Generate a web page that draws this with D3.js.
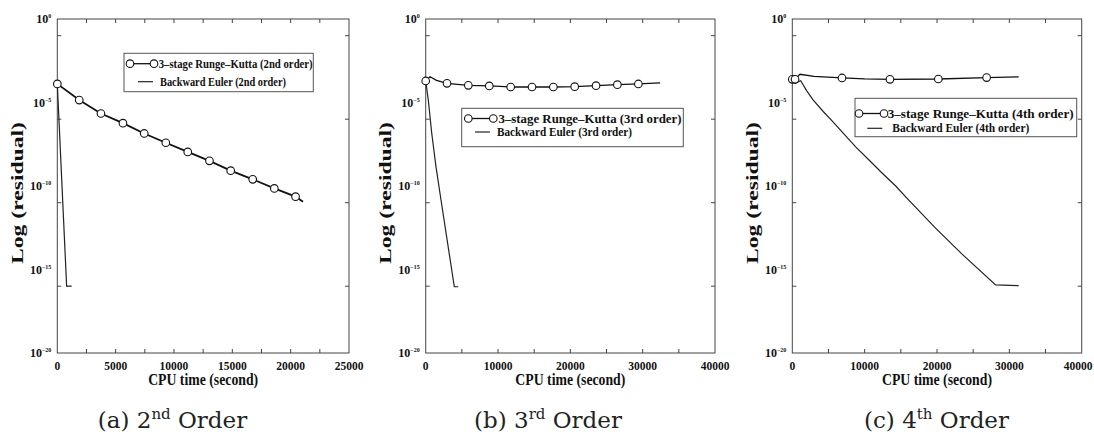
<!DOCTYPE html>
<meta charset="utf-8">
<script src="https://d3js.org/d3.v7.min.js"></script>
<style>
  body { margin: 0; background: #fff; }
  text { font-family: "Liberation Serif", "Times New Roman", serif; font-weight: bold; fill: #111; }
  .caption { font-family: "DejaVu Serif", serif; font-weight: normal; fill: #222; }
</style>
<svg id="chart" width="1094" height="437"></svg>
<script>

// (a) 2nd order : 3-stage RK line, its markers, backward Euler
var rkTimeA = [0, 1880, 3740, 5625, 7450, 9300, 11180, 13040, 14860, 16750, 18600, 20420, 21060];
var rkResA  = [1.3e-4, 1.4e-5, 2.2e-6, 5.8e-7, 1.4e-7, 3.9e-8, 1.1e-8, 3.2e-9, 8.3e-10, 2.5e-10, 7.2e-11, 2.3e-11, 1.15e-11];
var rkMarkTimeA = [0, 1880, 3740, 5625, 7450, 9300, 11180, 13040, 14860, 16750, 18600, 20420];
var rkMarkResA  = [1.3e-4, 1.4e-5, 2.2e-6, 5.8e-7, 1.4e-7, 3.9e-8, 1.1e-8, 3.2e-9, 8.3e-10, 2.5e-10, 7.2e-11, 2.3e-11];
var beTimeA = [0, 800, 1230];
var beResA  = [1.3e-4, 1e-16, 1e-16];

// (b) 3rd order
var rkTimeB = [0, 600, 1500, 2945, 5890, 8790, 11750, 14700, 17650, 20600, 23550, 26500, 29400, 32420];
var rkResB  = [1.95e-4, 3.5e-4, 2.1e-4, 1.4e-4, 1.07e-4, 9.8e-5, 8.5e-5, 8.5e-5, 8.5e-5, 8.9e-5, 1.02e-4, 1.17e-4, 1.29e-4, 1.48e-4];
var rkMarkTimeB = [0, 2945, 5890, 8790, 11750, 14700, 17650, 20600, 23550, 26500, 29400];
var rkMarkResB  = [1.95e-4, 1.4e-4, 1.07e-4, 9.8e-5, 8.5e-5, 8.5e-5, 8.5e-5, 8.9e-5, 1.02e-4, 1.17e-4, 1.29e-4];
var beTimeB = [0, 360, 830, 1425, 2116, 3955, 4500];
var beResB  = [1.95e-4, 1.4e-5, 1.5e-7, 1.4e-9, 1.45e-11, 9.3e-17, 9.3e-17];

// (c) 4th order
var rkTimeC = [0, 380, 1060, 3000, 6870, 10000, 13500, 20180, 26860, 31290];
var rkResC  = [2.45e-4, 2.45e-4, 4.9e-4, 3.7e-4, 2.95e-4, 2.6e-4, 2.45e-4, 2.55e-4, 3.1e-4, 3.4e-4];
var rkMarkTimeC = [0, 380, 6870, 13500, 20180, 26860];
var rkMarkResC  = [2.45e-4, 2.45e-4, 2.95e-4, 2.45e-4, 2.55e-4, 3.1e-4];
var beTimeC = [0, 370, 1160, 2000, 2900, 4300, 5500, 6910, 8760, 10600, 12440, 14290, 16000, 19800, 23500, 28100, 31290];
var beResC  = [2.45e-4, 1.4e-4, 2e-4, 5e-5, 1.4e-5, 2.8e-6, 8e-7, 1.7e-7, 2.2e-8, 3.6e-9, 5.8e-10, 1e-10, 1.6e-11, 3e-13, 8e-15, 1.2e-16, 1.07e-16];

var orders = ["2nd", "3rd", "4th"];
var captionLetters = ["(a)", "(b)", "(c)"];
var captionSups = ["nd", "rd", "th"];
var xMaxes = [25000, 40000, 40000];
var xTickSteps = [2500, 5000, 5000];
var xLabelSteps = [5000, 10000, 10000];

var yLabelVals = [1, 1e-5, 1e-10, 1e-15, 1e-20];
var yLabelExp  = ["0", "\u22125", "\u221210", "\u221215", "\u221220"];
var yTickVals  = [1e-1, 1e-6, 1e-11, 1e-16];

function zip(a, b) { return a.map(function(v, i) { return [v, b[i]]; }); }

// layout per panel
var layout = [
  {left: 57.3, right: 349, yLab: 17, cap: 172.5,
   lg: {x: 124, y: 53.3, w: 189.3, r1: 63.7, r2: 81.7, c1: 130, c2: 154, l1: 138, l2: 153, t1: 156.7, t2: 160, w1: 156, w2: 126}},
  {left: 425.7, right: 715, yLab: 385, cap: 548,
   lg: {x: 461.7, y: 108.3, w: 221.6, r1: 118.5, r2: 132, c1: 468.3, c2: 493.3, l1: 475, l2: 490, t1: 496.5, t2: 497, w1: 185, w2: 135}},
  {left: 792.3, right: 1081.7, yLab: 752, cap: 936.5,
   lg: {x: 855, y: 98.3, w: 221.7, r1: 113.5, r2: 128.3, c1: 859, c2: 884, l1: 867.3, l2: 882.3, t1: 885.7, t2: 892.3, w1: 188, w2: 137}}
];

var series = [
  {rk: zip(rkTimeA, rkResA), mk: zip(rkMarkTimeA, rkMarkResA), be: zip(beTimeA, beResA)},
  {rk: zip(rkTimeB, rkResB), mk: zip(rkMarkTimeB, rkMarkResB), be: zip(beTimeB, beResB)},
  {rk: zip(rkTimeC, rkResC), mk: zip(rkMarkTimeC, rkMarkResC), be: zip(beTimeC, beResC)}
];

var plotTop = 19, plotBottom = 353;
var svg = d3.select("#chart");

var y = d3.scaleLog().domain([1e-20, 1]).range([plotBottom, plotTop]);

layout.forEach(function(L, i) {
  var g = svg.append("g");
  var x = d3.scaleLinear().domain([0, xMaxes[i]]).range([L.left, L.right]);

  // frame
  g.append("rect")
    .attr("x", L.left).attr("y", plotTop)
    .attr("width", L.right - L.left).attr("height", plotBottom - plotTop)
    .attr("fill", "none").attr("stroke", "#444").attr("stroke-width", 1);

  // inward ticks, bottom and top
  var xt = d3.range(xTickSteps[i], xMaxes[i], xTickSteps[i]);
  g.selectAll(".xtb").data(xt).enter().append("line")
    .attr("x1", x).attr("x2", x).attr("y1", plotBottom).attr("y2", plotBottom - 4)
    .attr("stroke", "#444");
  g.selectAll(".xtt").data(xt).enter().append("line")
    .attr("x1", x).attr("x2", x).attr("y1", plotTop).attr("y2", plotTop + 4)
    .attr("stroke", "#444");
  // inward ticks, left and right
  g.selectAll(".ytl").data(yTickVals).enter().append("line")
    .attr("x1", L.left).attr("x2", L.left + 4).attr("y1", y).attr("y2", y)
    .attr("stroke", "#444");
  g.selectAll(".ytr").data(yTickVals).enter().append("line")
    .attr("x1", L.right).attr("x2", L.right - 4).attr("y1", y).attr("y2", y)
    .attr("stroke", "#444");

  // x tick labels (kept inside the page at the right edge)
  g.selectAll(".xl").data(d3.range(0, xMaxes[i] + 1, xLabelSteps[i])).enter().append("text")
    .attr("x", function(d) { return Math.min(x(d), 1078); }).attr("y", 369.5)
    .attr("text-anchor", "middle")
    .style("font-size", "11.5px")
    .text(function(d) { return d; });

  // y tick labels 10^n
  yLabelVals.forEach(function(v, k) {
    var t = g.append("text")
      .attr("x", L.left - 6).attr("y", y(v) + 4)
      .attr("text-anchor", "end")
      .style("font-size", "12px")
      .text("10");
    t.append("tspan").attr("dy", -5).style("font-size", "6px").text(yLabelExp[k]);
  });

  // axis titles
  g.append("text")
    .attr("transform", "translate(" + (L.yLab + 6) + ",193) rotate(-90)")
    .attr("text-anchor", "middle")
    .attr("textLength", 142).attr("lengthAdjust", "spacingAndGlyphs")
    .style("font-size", "17px")
    .text("Log (residual)");
  g.append("text")
    .attr("x", (L.left + L.right) / 2).attr("y", 385)
    .attr("text-anchor", "middle")
    .attr("textLength", 110).attr("lengthAdjust", "spacingAndGlyphs")
    .style("font-size", "17px")
    .text("CPU time (second)");

  var line = d3.line().x(function(d) { return x(d[0]); }).y(function(d) { return y(d[1]); });
  var S = series[i];

  g.append("path").datum(S.be)
    .attr("d", line).attr("fill", "none").attr("stroke", "#222").attr("stroke-width", 1.2);
  g.append("path").datum(S.rk)
    .attr("d", line).attr("fill", "none").attr("stroke", "#111").attr("stroke-width", i === 0 ? 1.8 : 1.3);
  g.selectAll(".mk").data(S.mk).enter().append("circle")
    .attr("cx", function(d) { return x(d[0]); })
    .attr("cy", function(d) { return y(d[1]); })
    .attr("r", 3.8)
    .attr("fill", "#fff").attr("stroke", "#111").attr("stroke-width", 1.1);

  // legend
  var lg = L.lg;
  g.append("rect")
    .attr("x", lg.x).attr("y", lg.y).attr("width", lg.w).attr("height", 38.4)
    .attr("fill", "#fff").attr("stroke", "#555").attr("stroke-width", 1);
  g.append("line")
    .attr("x1", lg.c1).attr("x2", lg.c2).attr("y1", lg.r1).attr("y2", lg.r1)
    .attr("stroke", "#111").attr("stroke-width", 1.3);
  [lg.c1, lg.c2].forEach(function(cx) {
    g.append("circle").attr("cx", cx).attr("cy", lg.r1).attr("r", 3.8)
      .attr("fill", "#fff").attr("stroke", "#111").attr("stroke-width", 1.1);
  });
  g.append("line")
    .attr("x1", lg.l1).attr("x2", lg.l2).attr("y1", lg.r2).attr("y2", lg.r2)
    .attr("stroke", "#222").attr("stroke-width", 1.2);
  g.append("text")
    .attr("x", lg.t1 + 2).attr("y", lg.r1 + 4)
    .attr("textLength", lg.w1 - 2).attr("lengthAdjust", "spacingAndGlyphs")
    .style("font-size", "12px")
    .text("3\u2013stage Runge\u2013Kutta (" + orders[i] + " order)");
  g.append("text")
    .attr("x", lg.t2).attr("y", lg.r2 + 4)
    .attr("textLength", lg.w2).attr("lengthAdjust", "spacingAndGlyphs")
    .style("font-size", "12px")
    .text("Backward Euler (" + orders[i] + " order)");

  // caption
  var cap = g.append("text").attr("class", "caption")
    .attr("x", L.cap).attr("y", 428)
    .attr("text-anchor", "middle")
    .style("font-size", "23px")
    .text(captionLetters[i] + " " + (i + 2));
  cap.append("tspan").attr("dy", -9).style("font-size", "15px").text(captionSups[i]);
  cap.append("tspan").attr("dy", 9).text(" Order");
});

</script>
